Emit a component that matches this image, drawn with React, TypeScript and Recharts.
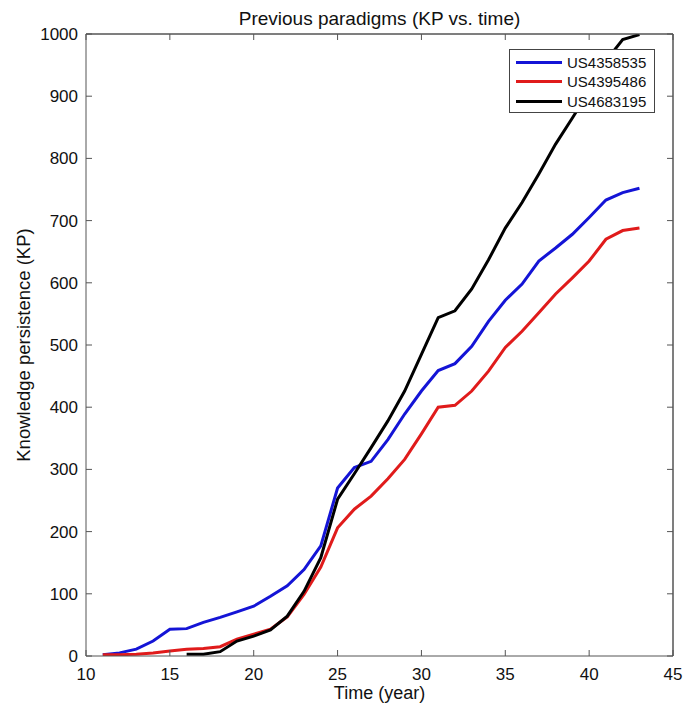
import React from "react";
import { LineChart, Line, XAxis, YAxis, ReferenceLine } from "recharts";

const years = [11,12,13,14,15,16,17,18,19,20,21,22,23,24,25,26,27,28,29,30,31,32,33,34,35,36,37,38,39,40,41,42,43];
const us4358535 = [2,5,11,24,43,44,54,62,71,80,96,113,139,177,270,303,313,348,389,426,459,470,498,538,572,598,635,656,678,705,733,745,752];
const us4395486 = [2,2,3,5,8,11,12,15,27,35,43,63,99,143,206,236,257,285,316,357,400,403,426,458,496,522,552,582,608,635,670,684,688];
const us4683195 = [null,null,null,null,null,3,3,7,24,32,42,64,104,158,252,293,335,378,426,485,544,555,590,637,688,729,775,823,865,908,957,991,999];
const xTicks = [10,15,20,25,30,35,40,45];
const yTicks = [0,100,200,300,400,500,600,700,800,900,1000];
const seriesNames = ["US4358535", "US4395486", "US4683195"];
const seriesColors = ["#1414d6", "#e01b1b", "#000000"];

const data = years.map((y, i) => ({
  year: y,
  a: us4358535[i],
  b: us4395486[i],
  c: us4683195[i],
}));

const font = "'Liberation Sans', Arial, Helvetica, sans-serif";
const axisColor = "#555";

const LegendBox = () => (
  <div
    style={{
      position: "absolute",
      left: 509,
      top: 49,
      width: 146,
      height: 64,
      border: "1px solid #444",
      background: "#fff",
      fontFamily: font,
      fontSize: 15,
      color: "#111",
      boxSizing: "border-box",
    }}
  >
    {seriesNames.map((n, i) => (
      <div key={n} style={{ position: "absolute", left: 6, top: 3 + i * 19.3, height: 19, display: "flex", alignItems: "center" }}>
        <div style={{ width: 46, height: 3, background: seriesColors[i], marginRight: 5 }} />
        <span>{n}</span>
      </div>
    ))}
  </div>
);

export default function App() {
  return (
    <div style={{ position: "absolute", left: 0, top: 0, width: 693, height: 708, background: "#fff", fontFamily: font }}>
      <div style={{ position: "absolute", left: 86, width: 587, top: 8, textAlign: "center", fontSize: 19, color: "#111", lineHeight: "22px" }}>
        Previous paradigms (KP vs. time)
      </div>
      <div style={{ position: "absolute", left: 86, width: 587, top: 683, textAlign: "center", fontSize: 18, color: "#111", lineHeight: "21px" }}>
        Time (year)
      </div>
      <div
        style={{
          position: "absolute",
          left: 24,
          top: 345,
          transform: "translate(-50%, -50%) rotate(-90deg)",
          whiteSpace: "nowrap",
          fontSize: 18.5,
          color: "#111",
        }}
      >
        Knowledge persistence (KP)
      </div>
      <LineChart width={693} height={708} data={data} margin={{ top: 33, right: 19, bottom: 12, left: 26 }}>
        <XAxis
          xAxisId="bottom"
          dataKey="year"
          type="number"
          domain={[10, 45]}
          ticks={xTicks}
          allowDataOverflow
          height={40}
          tickSize={-6}
          tickMargin={18}
          stroke={axisColor}
          tick={{ fill: "#111", fontSize: 17, fontFamily: font }}
        />
        <XAxis
          xAxisId="top"
          orientation="top"
          dataKey="year"
          type="number"
          domain={[10, 45]}
          ticks={xTicks}
          allowDataOverflow
          height={1}
          tickSize={-6}
          tickFormatter={() => ""}
          stroke={axisColor}
        />
        <YAxis
          yAxisId="left"
          type="number"
          domain={[0, 1000]}
          ticks={yTicks}
          allowDataOverflow
          width={60}
          tickSize={-6}
          tickMargin={14}
          stroke={axisColor}
          tick={{ fill: "#111", fontSize: 17, fontFamily: font }}
        />
        <YAxis
          yAxisId="right"
          orientation="right"
          type="number"
          domain={[0, 1000]}
          ticks={yTicks}
          allowDataOverflow
          width={1}
          tickSize={-6}
          tickFormatter={() => ""}
          stroke={axisColor}
        />
        <ReferenceLine xAxisId="bottom" yAxisId="left" y={1000} stroke={axisColor} ifOverflow="visible" />
        <ReferenceLine xAxisId="bottom" yAxisId="left" x={45} stroke={axisColor} ifOverflow="visible" />
        <Line xAxisId="top" yAxisId="right" dataKey="a" stroke="transparent" strokeWidth={0} dot={false} activeDot={false} legendType="none" isAnimationActive={false} />
        <Line xAxisId="bottom" yAxisId="left" dataKey="a" name={seriesNames[0]} stroke={seriesColors[0]} strokeWidth={3} dot={false} isAnimationActive={false} />
        <Line xAxisId="bottom" yAxisId="left" dataKey="b" name={seriesNames[1]} stroke={seriesColors[1]} strokeWidth={3} dot={false} isAnimationActive={false} />
        <Line xAxisId="bottom" yAxisId="left" dataKey="c" name={seriesNames[2]} stroke={seriesColors[2]} strokeWidth={3} dot={false} isAnimationActive={false} />
      </LineChart>
      <LegendBox />
    </div>
  );
}
